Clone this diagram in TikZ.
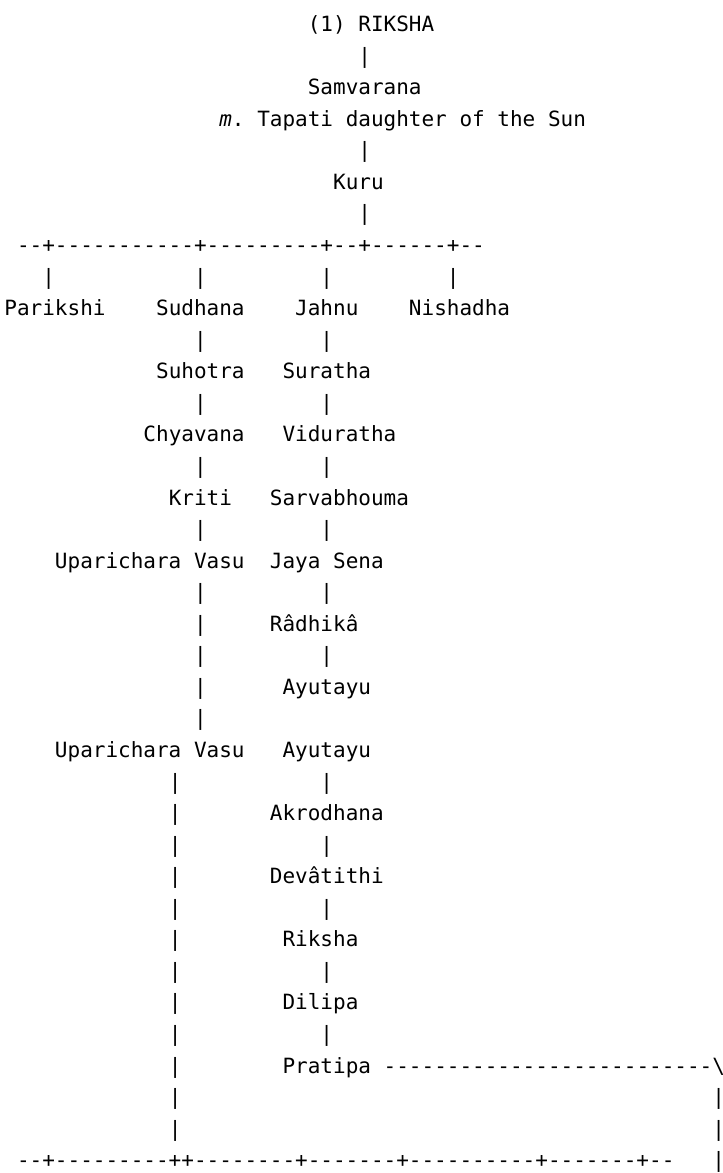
\documentclass[tikz,border=0pt]{standalone}
\usepackage{fontspec}
\setmonofont{DejaVu Sans Mono}[ItalicFont={DejaVu Sans Mono Oblique}]
\newcommand\putat[4]{\node[txt] (#1) at ({4.4+#3*12.643},{-31.6-(#2-1)*31.56}) {#4};}
\begin{document}
\begin{tikzpicture}[x=1pt,y=1pt,
  txt/.style={anchor=base west,inner sep=0pt,outer sep=0pt,
    font=\ttfamily\fontsize{21pt}{31.5pt}\selectfont\frenchspacing}]
\useasboundingbox (0,0) rectangle (723,-1173);
\putat{riksha}{1}{24}{(1) RIKSHA}
\putat{b2}{2}{28}{|}
\putat{samvarana}{3}{24}{Samvarana}
\putat{tapati}{4}{17}{\textit{m}. Tapati daughter of the Sun}
\putat{b5}{5}{28}{|}
\putat{kuru}{6}{26}{Kuru}
\putat{b7}{7}{28}{|}
\putat{h8}{8}{1}{--+-----------+---------+--+------+--}
\putat{b9a}{9}{3}{|}
\putat{b9b}{9}{15}{|}
\putat{b9c}{9}{25}{|}
\putat{b9d}{9}{35}{|}
\putat{parikshi}{10}{0}{Parikshi}
\putat{sudhana}{10}{12}{Sudhana}
\putat{jahnu}{10}{23}{Jahnu}
\putat{nishadha}{10}{32}{Nishadha}
\putat{b11a}{11}{15}{|}
\putat{b11b}{11}{25}{|}
\putat{suhotra}{12}{12}{Suhotra}
\putat{suratha}{12}{22}{Suratha}
\putat{b13a}{13}{15}{|}
\putat{b13b}{13}{25}{|}
\putat{chyavana}{14}{11}{Chyavana}
\putat{viduratha}{14}{22}{Viduratha}
\putat{b15a}{15}{15}{|}
\putat{b15b}{15}{25}{|}
\putat{kriti}{16}{13}{Kriti}
\putat{sarvabhouma}{16}{21}{Sarvabhouma}
\putat{b17a}{17}{15}{|}
\putat{b17b}{17}{25}{|}
\putat{vasua}{18}{4}{Uparichara Vasu}
\putat{jayasena}{18}{21}{Jaya Sena}
\putat{b19a}{19}{15}{|}
\putat{b19b}{19}{25}{|}
\putat{b20a}{20}{15}{|}
\putat{radhika}{20}{21}{Râdhikâ}
\putat{b21a}{21}{15}{|}
\putat{b21b}{21}{25}{|}
\putat{b22a}{22}{15}{|}
\putat{ayutayua}{22}{22}{Ayutayu}
\putat{b23a}{23}{15}{|}
\putat{vasub}{24}{4}{Uparichara Vasu}
\putat{ayutayub}{24}{22}{Ayutayu}
\putat{b25a}{25}{13}{|}
\putat{b25b}{25}{25}{|}
\putat{b26a}{26}{13}{|}
\putat{akrodhana}{26}{21}{Akrodhana}
\putat{b27a}{27}{13}{|}
\putat{b27b}{27}{25}{|}
\putat{b28a}{28}{13}{|}
\putat{devatithi}{28}{21}{Devâtithi}
\putat{b29a}{29}{13}{|}
\putat{b29b}{29}{25}{|}
\putat{b30a}{30}{13}{|}
\putat{rikshab}{30}{22}{Riksha}
\putat{b31a}{31}{13}{|}
\putat{b31b}{31}{25}{|}
\putat{b32a}{32}{13}{|}
\putat{dilipa}{32}{22}{Dilipa}
\putat{b33a}{33}{13}{|}
\putat{b33b}{33}{25}{|}
\putat{b34a}{34}{13}{|}
\putat{pratipa}{34}{22}{Pratipa --------------------------\textbackslash}
\putat{b35a}{35}{13}{|}
\putat{b35b}{35}{56}{|}
\putat{b36a}{36}{13}{|}
\putat{b36b}{36}{56}{|}
\putat{h37}{37}{1}{--+---------++--------+-------+----------+-------+--}
\putat{b37}{37}{56}{|}
\end{tikzpicture}
\end{document}
